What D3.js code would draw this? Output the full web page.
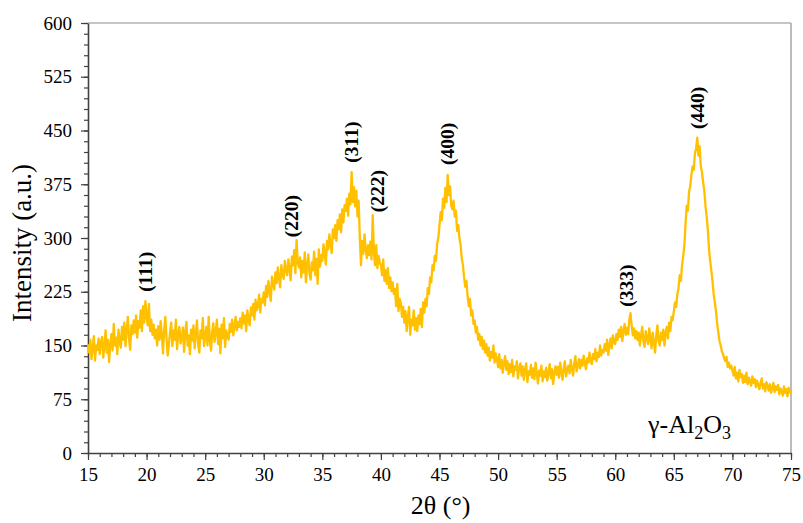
<!DOCTYPE html>
<html>
<head>
<meta charset="utf-8">
<script src="https://cdn.jsdelivr.net/npm/d3@7"></script>
<style>
  body { margin: 0; background: #fff; }
  svg text { font-family: "Liberation Serif", "Times New Roman", serif; fill: #000; }
</style>
</head>
<body>
<div id="chart"></div>
<script>
// 2theta from 15.0 to 75.0, step 0.1 (one row per degree)
var thetaStart = 15.0;
var thetaStep = 0.1;
var intensity = [
  152,140,158,131,147,163,129,150,144,160,
  138,155,162,133,149,171,140,158,127,152,
  166,143,180,150,161,138,172,155,147,176,
  158,182,149,171,190,160,144,178,166,185,
  168,192,161,184,175,199,170,205,182,212,
  190,178,208,170,186,165,179,160,172,150,
  177,158,184,165,139,172,190,160,136,151,
  168,182,149,171,158,186,145,167,176,153,
  160,175,141,169,183,150,164,138,172,157,
  178,146,166,185,152,140,171,160,188,149,
  163,176,150,190,158,143,170,181,155,168,
  186,152,173,139,179,160,188,148,171,163,
  158,180,169,186,164,177,190,171,183,176,
  188,174,196,181,192,170,199,185,178,203,
  192,208,186,214,199,205,221,196,215,210,
  224,206,233,218,240,225,212,246,235,228,
  252,237,259,244,231,262,250,243,268,255,
  248,270,257,241,274,262,283,251,297,266,
  259,273,245,268,252,280,238,262,277,250,
  242,266,255,281,248,271,236,284,260,276,
  268,291,278,263,296,284,305,290,279,312,
  300,318,296,325,312,333,308,340,322,346,
  338,355,331,362,347,392,350,371,344,366,
  330,352,300,262,296,278,305,284,272,290,
  276,295,270,332,281,262,290,258,275,266,
  262,248,270,240,255,236,258,230,245,226,
  238,222,229,205,236,198,215,209,190,204,
  182,198,170,190,204,165,186,178,199,172,
  188,170,192,180,201,176,210,196,215,205,
  230,222,245,238,262,255,275,268,292,300,
  318,336,325,355,342,370,350,388,360,372,
  345,340,352,330,338,310,318,300,290,272,
  262,245,232,240,218,205,215,192,199,180,
  185,168,176,158,166,150,162,145,157,140,
  152,136,147,129,141,133,150,126,139,131,
  120,138,118,130,112,126,135,116,128,110,
  124,113,130,107,121,116,128,104,119,125,
  108,121,102,117,125,99,114,109,123,105,
  118,103,126,111,97,115,108,122,100,114,
  106,119,101,113,124,104,117,96,112,121,
  109,120,105,126,113,102,118,128,107,116,
  122,111,130,117,108,125,135,114,121,131,
  118,130,122,136,125,117,132,126,140,128,
  124,138,131,145,128,140,134,150,136,144,
  140,152,143,158,137,150,160,146,164,155,
  152,166,158,172,162,176,156,170,180,165,
  175,166,186,195,178,164,174,160,170,158,
  168,150,164,176,156,148,170,160,152,174,
  160,146,168,154,140,165,178,156,150,168,
  158,172,150,168,176,160,182,170,190,185,
  198,210,204,222,230,248,240,262,275,290,
  320,345,338,365,372,388,400,395,418,425,
  440,415,428,400,392,378,366,345,330,312,
  285,268,255,240,222,210,198,180,168,156,
  150,142,138,132,128,134,120,126,118,122,
  115,108,120,104,112,100,116,106,110,98,
  108,99,112,96,105,101,94,107,98,103,
  92,101,95,89,98,104,90,96,86,99,
  94,87,96,84,91,98,85,93,88,95,
  82,90,86,80,93,84,89,79,91,85,
  83
];

var xTicks = [15, 20, 25, 30, 35, 40, 45, 50, 55, 60, 65, 70, 75];
var yTicks = [0, 75, 150, 225, 300, 375, 450, 525, 600];

// peak labels: hkl, 2theta, intensity at label foot
var peakNames = ["(111)", "(220)", "(311)", "(222)", "(400)", "(333)", "(440)"];
var peakTheta = [19.9, 32.4, 37.5, 39.7, 45.7, 61.0, 67.0];
var peakFoot = [225, 301, 405, 336, 402, 204, 452];

var width = 803, height = 523;
var margin = {top: 23, right: 12, bottom: 70, left: 88};

var svg = d3.select("#chart").append("svg")
    .attr("width", width)
    .attr("height", height);

var x = d3.scaleLinear().domain([15, 75]).range([margin.left, width - margin.right]);
var y = d3.scaleLinear().domain([0, 600]).range([height - margin.bottom, margin.top]);

var data = intensity.map(function(v, i) {
    return {t: thetaStart + i * thetaStep, v: v};
});

// frame (top and right in light grey)
svg.append("line")
   .attr("x1", x(15)).attr("x2", x(75))
   .attr("y1", y(600)).attr("y2", y(600))
   .attr("stroke", "#8c8c8c").attr("stroke-width", 1.2);
svg.append("line")
   .attr("x1", x(75)).attr("x2", x(75))
   .attr("y1", y(0)).attr("y2", y(600))
   .attr("stroke", "#a6a6a6").attr("stroke-width", 1.5);

// minor ticks
var xMinor = d3.range(15, 76, 1);
var yMinor = d3.range(0, 601, 15);

svg.append("g")
   .attr("transform", "translate(0," + y(0) + ")")
   .call(d3.axisBottom(x).tickValues(xMinor).tickSize(4).tickFormat(""))
   .call(function(g) { g.select(".domain").remove(); })
   .selectAll("line").attr("stroke", "#404040").attr("stroke-width", 1.2);

svg.append("g")
   .attr("transform", "translate(" + x(15) + ",0)")
   .call(d3.axisLeft(y).tickValues(yMinor).tickSize(4).tickFormat(""))
   .call(function(g) { g.select(".domain").remove(); })
   .selectAll("line").attr("stroke", "#404040").attr("stroke-width", 1.2);

// major axes
var xAxis = svg.append("g")
   .attr("transform", "translate(0," + y(0) + ")")
   .call(d3.axisBottom(x).tickValues(xTicks).tickSize(7).tickSizeOuter(0).tickPadding(8));
var yAxis = svg.append("g")
   .attr("transform", "translate(" + x(15) + ",0)")
   .call(d3.axisLeft(y).tickValues(yTicks).tickSize(7).tickSizeOuter(0).tickPadding(9));

[xAxis, yAxis].forEach(function(g) {
    g.select(".domain").attr("stroke", "#404040").attr("stroke-width", 1.6);
    g.selectAll(".tick line").attr("stroke", "#404040").attr("stroke-width", 1.2);
    g.selectAll(".tick text")
     .style("font-family", "'Liberation Serif', serif")
     .style("font-size", "19px")
     .attr("fill", "#000");
});

// pattern
var line = d3.line()
    .x(function(d) { return x(d.t); })
    .y(function(d) { return y(d.v); });

svg.append("path")
   .datum(data)
   .attr("fill", "none")
   .attr("stroke", "#FFC000")
   .attr("stroke-width", 2.3)
   .attr("stroke-linejoin", "round")
   .attr("d", line);

// peak labels
svg.selectAll("text.peak")
   .data(peakNames)
   .enter()
   .append("text")
   .attr("class", "peak")
   .attr("transform", function(d, i) {
       return "translate(" + x(peakTheta[i]) + "," + y(peakFoot[i]) + ") rotate(-90)";
   })
   .attr("dominant-baseline", "central")
   .style("font-size", "19.5px")
   .style("font-weight", "bold")
   .text(function(d) { return d; });

// sample label
var lab = svg.append("text")
   .attr("x", x(62.8))
   .attr("y", y(28))
   .style("font-size", "26px");
lab.append("tspan").text("\u03b3-Al");
lab.append("tspan").attr("dy", 6).style("font-size", "18px").text("2");
lab.append("tspan").attr("dy", -6).text("O");
lab.append("tspan").attr("dy", 6).style("font-size", "18px").text("3");

// axis titles
svg.append("text")
   .attr("x", x(45.1))
   .attr("y", 514)
   .attr("text-anchor", "middle")
   .style("font-size", "26px")
   .text("2\u03b8 (\u00b0)");

svg.append("text")
   .attr("transform", "translate(31," + ((margin.top + height - margin.bottom) / 2 + 5) + ") rotate(-90)")
   .attr("text-anchor", "middle")
   .style("font-size", "27px")
   .text("Intensity (a.u.)");
</script>
</body>
</html>
